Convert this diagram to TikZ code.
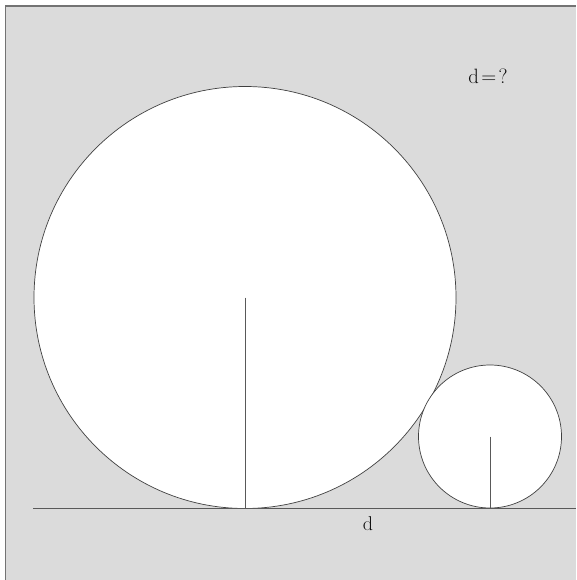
\documentclass[tikz,border=0pt]{standalone}
\begin{document}
\begin{tikzpicture}[x=1pt,y=-1pt,
  framecol/.style={draw=black!55, line width=1.2pt},
  circ/.style={draw=black!75, fill=white, line width=0.7pt},
  radius line/.style={draw=black!65, line width=1pt},
  lbl/.style={font=\fontsize{20}{23}\selectfont, text=black!95, inner sep=0pt}]
\useasboundingbox (0,0) rectangle (576,580);
\fill[white] (0,0) rectangle (576,580);
\fill[gray!28] (5.5,6) rectangle (576,580);
\draw[framecol] (5.5,580) -- (5.5,6) -- (576,6);
% circles
\coordinate (C1) at (245,297.5);
\coordinate (C2) at (490,436.5);
\draw[circ] (C1) circle[radius=211];
\draw[circ] (C2) circle[radius=71.5];
% ground line
\coordinate (G0) at (33,508.5);
\coordinate (G1) at (576,508.5);
\draw[draw=black!65, line width=1pt] (G0) -- (G1);
% radii
\coordinate (B1) at (245,508.5);
\coordinate (B2) at (490,508.5);
\draw[radius line] (C1) -- (B1);
\draw[radius line] (C2) -- (B2);
% labels
\node[lbl] (q) at (488,76) {$\mathrm{d}\mskip2mu{=}\mskip2mu\mathord{?}$};
\node[lbl] (d) at (368,524) {d};
\end{tikzpicture}
\end{document}
